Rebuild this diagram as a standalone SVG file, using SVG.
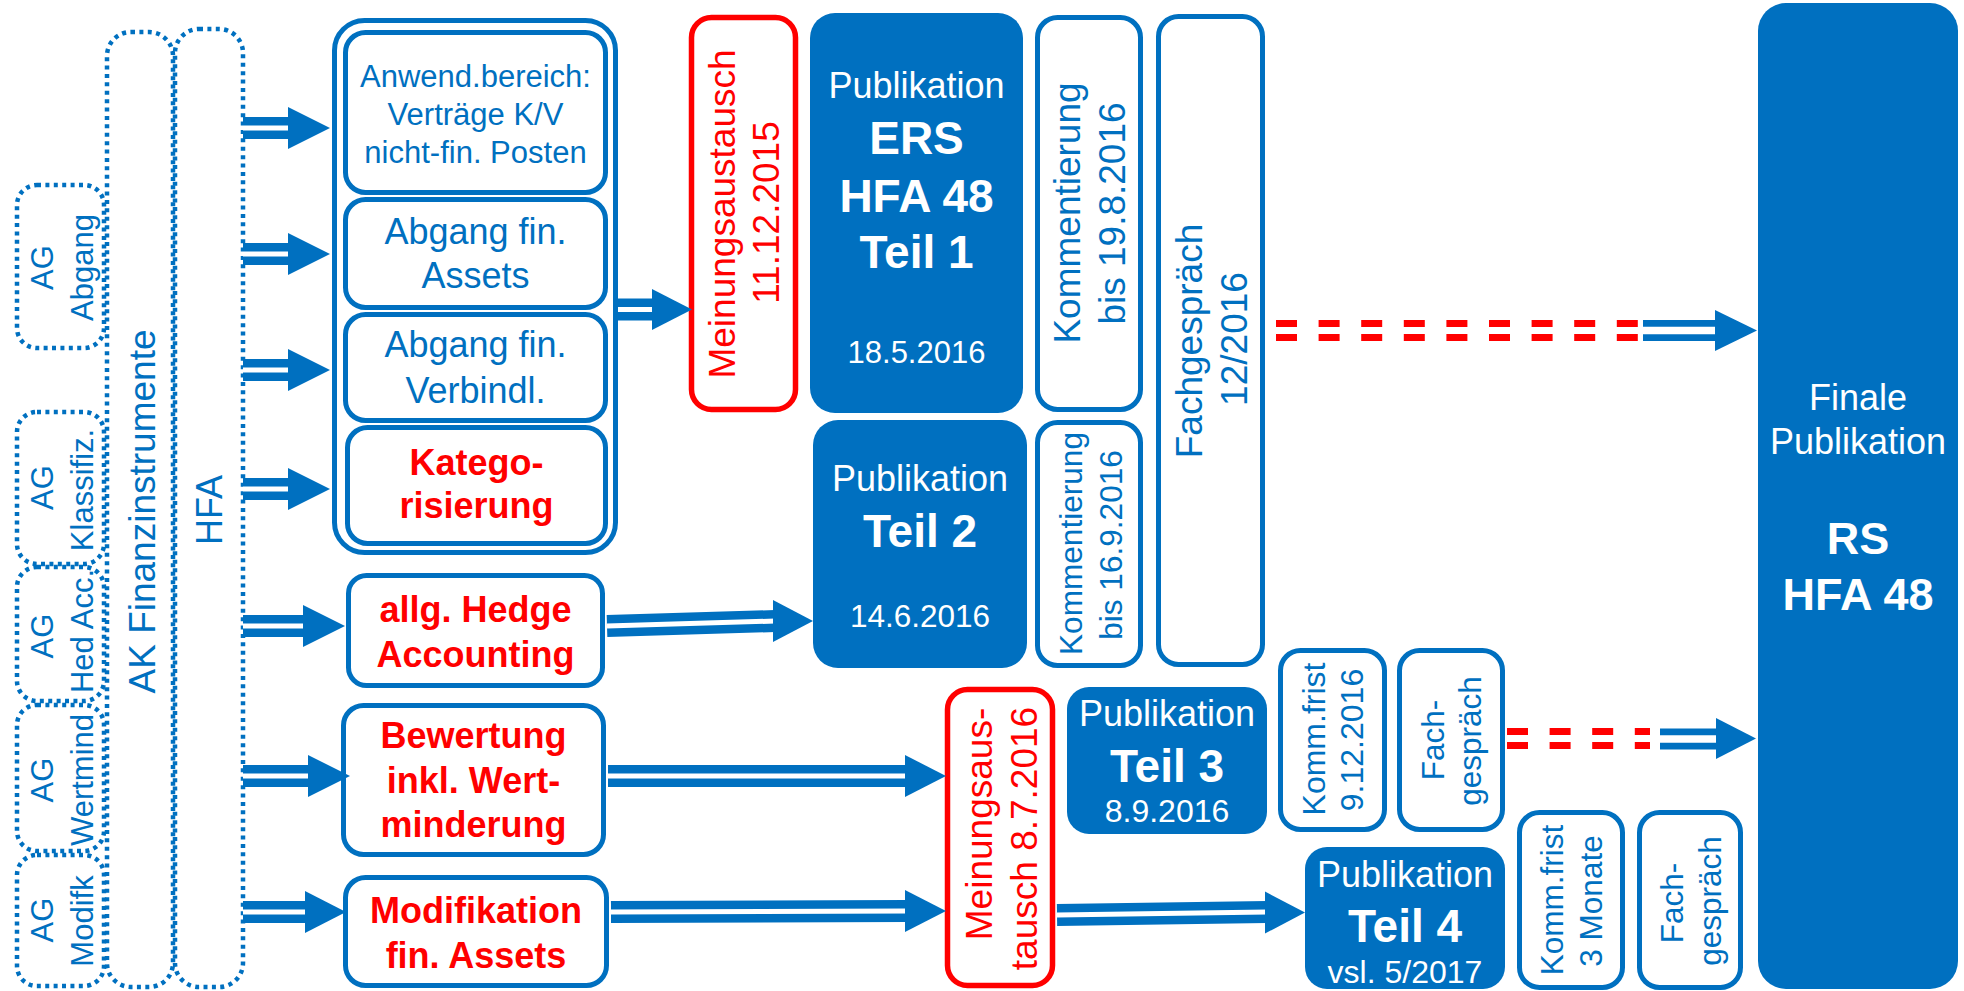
<svg xmlns="http://www.w3.org/2000/svg" width="1964" height="991" viewBox="0 0 1964 991">
<style>
text{font-family:"Liberation Sans",Arial,sans-serif;text-anchor:middle}
.dot{fill:none;stroke:#0070C0;stroke-width:4.5;stroke-dasharray:4 4.4}
.box{fill:#fff;stroke:#0070C0;stroke-width:5}
.rbox{fill:#fff;stroke:#FF0000;stroke-width:5.5}
.fbox{fill:#0070C0}
.b{fill:#0070C0}
.w{fill:#fff}
.r{fill:#FF0000}
.bold{font-weight:bold}
.dl{stroke:#0070C0;stroke-width:22}
.dw{stroke:#fff;stroke-width:5}
.fl{stroke:#0070C0;stroke-width:21}
.fw{stroke:#fff;stroke-width:7.5}
.rd{stroke:#FF0000;stroke-width:7;stroke-dasharray:21 21.6}
.hd{fill:#0070C0}
</style>
<rect width="1964" height="991" fill="#fff"/>

<g id="ak">
<rect class="dot" x="107" y="32" width="66" height="955" rx="24"/>
<text class="b" font-size="37" transform="translate(155,511.5) rotate(-90)">AK Finanzinstrumente</text>
</g>
<g id="hfa">
<rect class="dot" x="175" y="29" width="68" height="958" rx="24"/>
<text class="b" font-size="36" transform="translate(222,510) rotate(-90)">HFA</text>
</g>

<g id="ag-abgang">
<rect class="dot" x="17" y="185" width="87" height="163" rx="20"/>
<text class="b" font-size="31" transform="translate(53.3,267.5) rotate(-90)">AG</text>
<text class="b" font-size="31" transform="translate(92.5,267.5) rotate(-90)">Abgang</text>
</g>
<g id="ag-klassifiz">
<rect class="dot" x="17" y="412" width="87" height="152" rx="20"/>
<text class="b" font-size="31" transform="translate(53.3,487.5) rotate(-90)">AG</text>
<text class="b" font-size="31" transform="translate(92.5,490) rotate(-90)">Klassifiz.</text>
</g>
<g id="ag-hedacc">
<rect class="dot" x="17" y="567" width="87" height="134" rx="20"/>
<text class="b" font-size="31" transform="translate(53.3,636) rotate(-90)">AG</text>
<text class="b" font-size="31" transform="translate(92.5,631) rotate(-90)">Hed Acc.</text>
</g>
<g id="ag-wertmind">
<rect class="dot" x="17" y="705" width="87" height="146" rx="20"/>
<text class="b" font-size="31" transform="translate(53.3,780) rotate(-90)">AG</text>
<text class="b" font-size="31" transform="translate(92.5,780) rotate(-90)">Wertmind</text>
</g>
<g id="ag-modifk">
<rect class="dot" x="17" y="855" width="87" height="131" rx="20"/>
<text class="b" font-size="31" transform="translate(53.3,920) rotate(-90)">AG</text>
<text class="b" font-size="31" transform="translate(92.5,921) rotate(-90)">Modifk</text>
</g>

<g id="group-teil1">
<rect class="box" x="334.5" y="20.5" width="281" height="532" rx="30"/>
</g>
<g id="anwend">
<rect class="box" x="345.5" y="32.5" width="260" height="160" rx="20"/>
<text class="b" font-size="31" x="475.5" y="86.7">Anwend.bereich:</text>
<text class="b" font-size="31" x="475.5" y="125">Verträge K/V</text>
<text class="b" font-size="31" x="475.5" y="162.7">nicht-fin. Posten</text>
</g>
<g id="abgang-assets">
<rect class="box" x="345.5" y="199.5" width="260" height="108" rx="20"/>
<text class="b" font-size="36" x="475.5" y="244">Abgang fin.</text>
<text class="b" font-size="36" x="475.5" y="288">Assets</text>
</g>
<g id="abgang-verbindl">
<rect class="box" x="345.5" y="314.5" width="260" height="106" rx="20"/>
<text class="b" font-size="36" x="475.5" y="357">Abgang fin.</text>
<text class="b" font-size="36" x="475.5" y="403">Verbindl.</text>
</g>
<g id="kategorisierung">
<rect class="box" x="347.5" y="427.5" width="258" height="116" rx="20"/>
<text class="r bold" font-size="36" x="476.5" y="475">Katego-</text>
<text class="r bold" font-size="36" x="476.5" y="518">risierung</text>
</g>
<g id="hedge">
<rect class="box" x="348.5" y="575.5" width="254" height="110" rx="18"/>
<text class="r bold" font-size="36" x="475.5" y="622">allg. Hedge</text>
<text class="r bold" font-size="36" x="475.5" y="667">Accounting</text>
</g>
<g id="bewertung">
<rect class="box" x="343.5" y="705.5" width="260" height="149" rx="20"/>
<text class="r bold" font-size="36" x="473.5" y="748">Bewertung</text>
<text class="r bold" font-size="36" x="473.5" y="793">inkl. Wert-</text>
<text class="r bold" font-size="36" x="473.5" y="837">minderung</text>
</g>
<g id="modifikation">
<rect class="box" x="345.5" y="877.5" width="261" height="108" rx="20"/>
<text class="r bold" font-size="36" x="476" y="923">Modifikation</text>
<text class="r bold" font-size="36" x="476" y="968">fin. Assets</text>
</g>

<g id="meinung-2015">
<rect class="rbox" x="691.5" y="17.5" width="104" height="392" rx="20"/>
<text class="r" font-size="37" transform="translate(735,214) rotate(-90)">Meinungsaustausch</text>
<text class="r" font-size="37" transform="translate(779,212.5) rotate(-90)">11.12.2015</text>
</g>
<g id="ers-teil1">
<rect class="fbox" x="810" y="13" width="213" height="400" rx="25"/>
<text class="w" font-size="36" x="916.5" y="98">Publikation</text>
<text class="w bold" font-size="46" x="916.5" y="154">ERS</text>
<text class="w bold" font-size="46" x="916.5" y="212">HFA 48</text>
<text class="w bold" font-size="46" x="916.5" y="268">Teil 1</text>
<text class="w" font-size="31" x="916.5" y="363">18.5.2016</text>
</g>
<g id="komm-19-8">
<rect class="box" x="1037.5" y="17.5" width="103" height="392" rx="20"/>
<text class="b" font-size="37" transform="translate(1080,213) rotate(-90)">Kommentierung</text>
<text class="b" font-size="37" transform="translate(1125,213.5) rotate(-90)">bis 19.8.2016</text>
</g>
<g id="teil2">
<rect class="fbox" x="813" y="420" width="214" height="248" rx="25"/>
<text class="w" font-size="36" x="920" y="491">Publikation</text>
<text class="w bold" font-size="46" x="920" y="547">Teil 2</text>
<text class="w" font-size="31.5" x="920" y="627">14.6.2016</text>
</g>
<g id="komm-16-9">
<rect class="box" x="1037.5" y="422.5" width="103" height="243" rx="20"/>
<text class="b" font-size="31.6" transform="translate(1082,543.5) rotate(-90)">Kommentierung</text>
<text class="b" font-size="31.6" transform="translate(1122,545) rotate(-90)">bis 16.9.2016</text>
</g>
<g id="fachgespraech-12-2016">
<rect class="box" x="1158.5" y="16.5" width="104" height="648" rx="20"/>
<text class="b" font-size="37" transform="translate(1202,341) rotate(-90)">Fachgespräch</text>
<text class="b" font-size="37" transform="translate(1247,339) rotate(-90)">12/2016</text>
</g>

<g id="meinung-2016">
<rect class="rbox" x="947.5" y="689.5" width="105" height="296" rx="20"/>
<text class="r" font-size="37" transform="translate(992,824) rotate(-90)">Meinungsaus-</text>
<text class="r" font-size="37" transform="translate(1037,838.5) rotate(-90)">tausch 8.7.2016</text>
</g>
<g id="teil3">
<rect class="fbox" x="1067" y="687" width="200" height="147" rx="22"/>
<text class="w" font-size="36" x="1167" y="726">Publikation</text>
<text class="w bold" font-size="46" x="1167" y="782">Teil 3</text>
<text class="w" font-size="32" x="1167" y="822">8.9.2016</text>
</g>
<g id="kommfrist-9-12">
<rect class="box" x="1280.5" y="650.5" width="104" height="179" rx="20"/>
<text class="b" font-size="32" transform="translate(1325,739) rotate(-90)">Komm.frist</text>
<text class="b" font-size="32" transform="translate(1363,740) rotate(-90)">9.12.2016</text>
</g>
<g id="fachgespraech-3">
<rect class="box" x="1399.5" y="650.5" width="103" height="179" rx="20"/>
<text class="b" font-size="31.5" transform="translate(1444,740) rotate(-90)">Fach-</text>
<text class="b" font-size="31.5" transform="translate(1481,741) rotate(-90)">gespräch</text>
</g>
<g id="teil4">
<rect class="fbox" x="1305" y="847" width="200" height="142" rx="22"/>
<text class="w" font-size="36" x="1405" y="887">Publikation</text>
<text class="w bold" font-size="46" x="1405" y="942">Teil 4</text>
<text class="w" font-size="32" x="1405" y="983">vsl. 5/2017</text>
</g>
<g id="kommfrist-3m">
<rect class="box" x="1519.5" y="812.5" width="103" height="175" rx="20"/>
<text class="b" font-size="31.5" transform="translate(1563,900) rotate(-90)">Komm.frist</text>
<text class="b" font-size="31.5" transform="translate(1602,901) rotate(-90)">3 Monate</text>
</g>
<g id="fachgespraech-4">
<rect class="box" x="1639.5" y="812.5" width="101" height="175" rx="20"/>
<text class="b" font-size="31.5" transform="translate(1683,903) rotate(-90)">Fach-</text>
<text class="b" font-size="31.5" transform="translate(1721,901) rotate(-90)">gespräch</text>
</g>

<g id="final">
<rect class="fbox" x="1758" y="3" width="200" height="986" rx="28"/>
<text class="w" font-size="36" x="1858" y="410">Finale</text>
<text class="w" font-size="36" x="1858" y="454">Publikation</text>
<text class="w bold" font-size="45" x="1858" y="554">RS</text>
<text class="w bold" font-size="45" x="1858" y="610">HFA 48</text>
</g>

<g id="connectors">
<!-- HFA to topics -->
<line class="dl" x1="243" y1="128" x2="290" y2="128"/><line class="dw" x1="243" y1="128" x2="290" y2="128"/><polygon class="hd" points="288,107 330,128 288,149"/>
<line class="dl" x1="243" y1="254" x2="290" y2="254"/><line class="dw" x1="243" y1="254" x2="290" y2="254"/><polygon class="hd" points="288,233 330,254 288,275"/>
<line class="dl" x1="243" y1="370" x2="290" y2="370"/><line class="dw" x1="243" y1="370" x2="290" y2="370"/><polygon class="hd" points="288,349 330,370 288,391"/>
<line class="dl" x1="243" y1="489" x2="290" y2="489"/><line class="dw" x1="243" y1="489" x2="290" y2="489"/><polygon class="hd" points="288,468 330,489 288,510"/>
<line class="dl" x1="243" y1="626" x2="305" y2="626"/><line class="dw" x1="243" y1="626" x2="305" y2="626"/><polygon class="hd" points="303,605 345,626 303,647"/>
<line class="dl" x1="243" y1="776" x2="310" y2="776"/><line class="dw" x1="243" y1="776" x2="310" y2="776"/><polygon class="hd" points="308,755 350,776 308,797"/>
<line class="dl" x1="243" y1="912" x2="307" y2="912"/><line class="dw" x1="243" y1="912" x2="307" y2="912"/><polygon class="hd" points="305,891 346,912 305,933"/>
<!-- group to Meinungsaustausch 2015 -->
<line class="dl" x1="618" y1="309.5" x2="654" y2="309.5"/><line class="dw" x1="618" y1="309.5" x2="654" y2="309.5"/><polygon class="hd" points="652,289 692,309.5 652,330"/>
<!-- hedge to Teil 2 -->
<line class="dl" x1="607" y1="626" x2="775" y2="621"/><line class="dw" x1="607" y1="626" x2="775" y2="621"/><polygon class="hd" points="773,600 813,621 773,642"/>
<!-- Bewertung / Modifikation to Meinungsaustausch 2016 -->
<line class="dl" x1="608" y1="776" x2="907" y2="776"/><line class="dw" x1="608" y1="776" x2="907" y2="776"/><polygon class="hd" points="905,755 946,776 905,797"/>
<line class="dl" x1="611" y1="912" x2="907" y2="911"/><line class="dw" x1="611" y1="912" x2="907" y2="911"/><polygon class="hd" points="905,890 946,911 905,932"/>
<!-- Meinungsaustausch 2016 to Teil 4 -->
<line class="dl" x1="1057" y1="915" x2="1267" y2="912"/><line class="dw" x1="1057" y1="915" x2="1267" y2="912"/><polygon class="hd" points="1265,891.5 1305,912.5 1265,933.5"/>
<!-- dashed red to final -->
<line class="rd" x1="1276" y1="323.5" x2="1640" y2="323.5"/><line class="rd" x1="1276" y1="337.5" x2="1640" y2="337.5"/>
<line class="fl" x1="1643" y1="330.5" x2="1717" y2="330.5"/><line class="fw" x1="1643" y1="330.5" x2="1717" y2="330.5"/><polygon class="hd" points="1715,310 1757,330.5 1715,351"/>
<line class="rd" x1="1507" y1="731.5" x2="1650" y2="731.5"/><line class="rd" x1="1507" y1="745.5" x2="1650" y2="745.5"/>
<line class="fl" x1="1660" y1="739" x2="1718" y2="739"/><line class="fw" x1="1660" y1="739" x2="1718" y2="739"/><polygon class="hd" points="1716,718 1756,738.5 1716,759"/>
</g>
</svg>
